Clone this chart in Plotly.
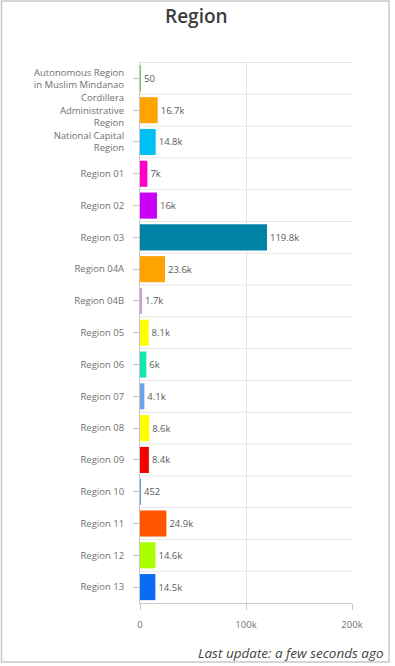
import plotly.graph_objects as go

# Regions (top to bottom) and their counts
regions = [
    "Autonomous Region<br>in Muslim Mindanao",
    "Cordillera<br>Administrative<br>Region",
    "National Capital<br>Region",
    "Region 01", "Region 02", "Region 03", "Region 04A", "Region 04B",
    "Region 05", "Region 06", "Region 07", "Region 08", "Region 09",
    "Region 10", "Region 11", "Region 12", "Region 13",
]
counts = [50, 16700, 14800, 7000, 16000, 119800, 23600, 1700,
          8100, 6000, 4100, 8600, 8400, 452, 24900, 14600, 14500]
value_labels = ["50", "16.7k", "14.8k", "7k", "16k", "119.8k", "23.6k", "1.7k",
                "8.1k", "6k", "4.1k", "8.6k", "8.4k", "452", "24.9k", "14.6k", "14.5k"]
bar_colors = ["#7cc84a", "#ffa300", "#00bff5", "#ff00c8", "#c800f5", "#0083a6",
              "#ffa300", "#c8a0e0", "#ffff00", "#14e8b0", "#6aa2e8", "#ffff00",
              "#f50000", "#4aa8c0", "#ff5500", "#aaff00", "#0a6cf5"]
x_ticks = [0, 100000, 200000]
x_tick_labels = ["0", "100k", "200k"]

W, H = 395, 666
L, R, T, B = 140, 43, 62, 63
pw, ph = W - L - R, H - T - B
FONT = "Open Sans, sans-serif"

def px_x(p):
    return (p - L) / pw

def px_y(p):
    return (H - B - p) / ph

fig = go.Figure(go.Bar(
    y=regions, x=counts, orientation="h",
    marker=dict(color=bar_colors, line=dict(width=0)),
    text=value_labels, textposition="outside", cliponaxis=False,
    textfont=dict(family=FONT, size=9.5, color="#5a5a5a"),
    hoverinfo="skip",
))

grid = "#e6e6e6"
shapes = []
# band separators between categories
for i in range(len(regions)):
    shapes.append(dict(type="line", xref="paper", yref="y", x0=0, x1=1,
                       y0=i - 0.5, y1=i - 0.5, line=dict(color=grid, width=1),
                       layer="below"))
# outer frame of the card
shapes.append(dict(type="rect", xref="paper", yref="paper",
                   x0=px_x(1.5), x1=px_x(389), y0=px_y(1), y1=px_y(662),
                   line=dict(color="#c8c8c8", width=1.5)))

fig.update_layout(
    width=W, height=H,
    margin=dict(l=L, r=R, t=T, b=B, pad=0),
    paper_bgcolor="white", plot_bgcolor="white",
    font=dict(family=FONT, size=9.5, color="#707070"),
    title=dict(text="Region", x=0.497, xref="container", xanchor="center",
               y=1 - 16 / H, yref="container", yanchor="middle",
               font=dict(family=FONT, size=19, color="#3c3c3c", weight=600)),
    bargap=0.18,
    showlegend=False,
    xaxis=dict(range=[0, 200000], tickvals=x_ticks, ticktext=x_tick_labels,
               showgrid=True, gridcolor=grid, zeroline=False,
               showline=True, linecolor="#c8c8c8", linewidth=1,
               ticks="outside", ticklen=6, tickcolor="#c8c8c8",
               ticklabelstandoff=7,
               tickfont=dict(family=FONT, size=9.5, color="#707070"),
               fixedrange=True),
    yaxis=dict(autorange="reversed", showgrid=False, zeroline=False,
               showline=True, linecolor="#c8c8c8", linewidth=1,
               ticks="outside", ticklen=6, tickcolor="#c8c8c8",
               ticklabelstandoff=7,
               tickfont=dict(family=FONT, size=9.5, color="#707070"),
               fixedrange=True),
    shapes=shapes,
    annotations=[dict(text="<i>Last update: a few seconds ago</i>",
                      xref="paper", yref="paper", x=px_x(386), y=px_y(653),
                      xanchor="right", yanchor="middle", showarrow=False,
                      font=dict(family=FONT, size=13.5, color="#444444"))],
)

fig.write_html("out.html", config={"displayModeBar": False})
